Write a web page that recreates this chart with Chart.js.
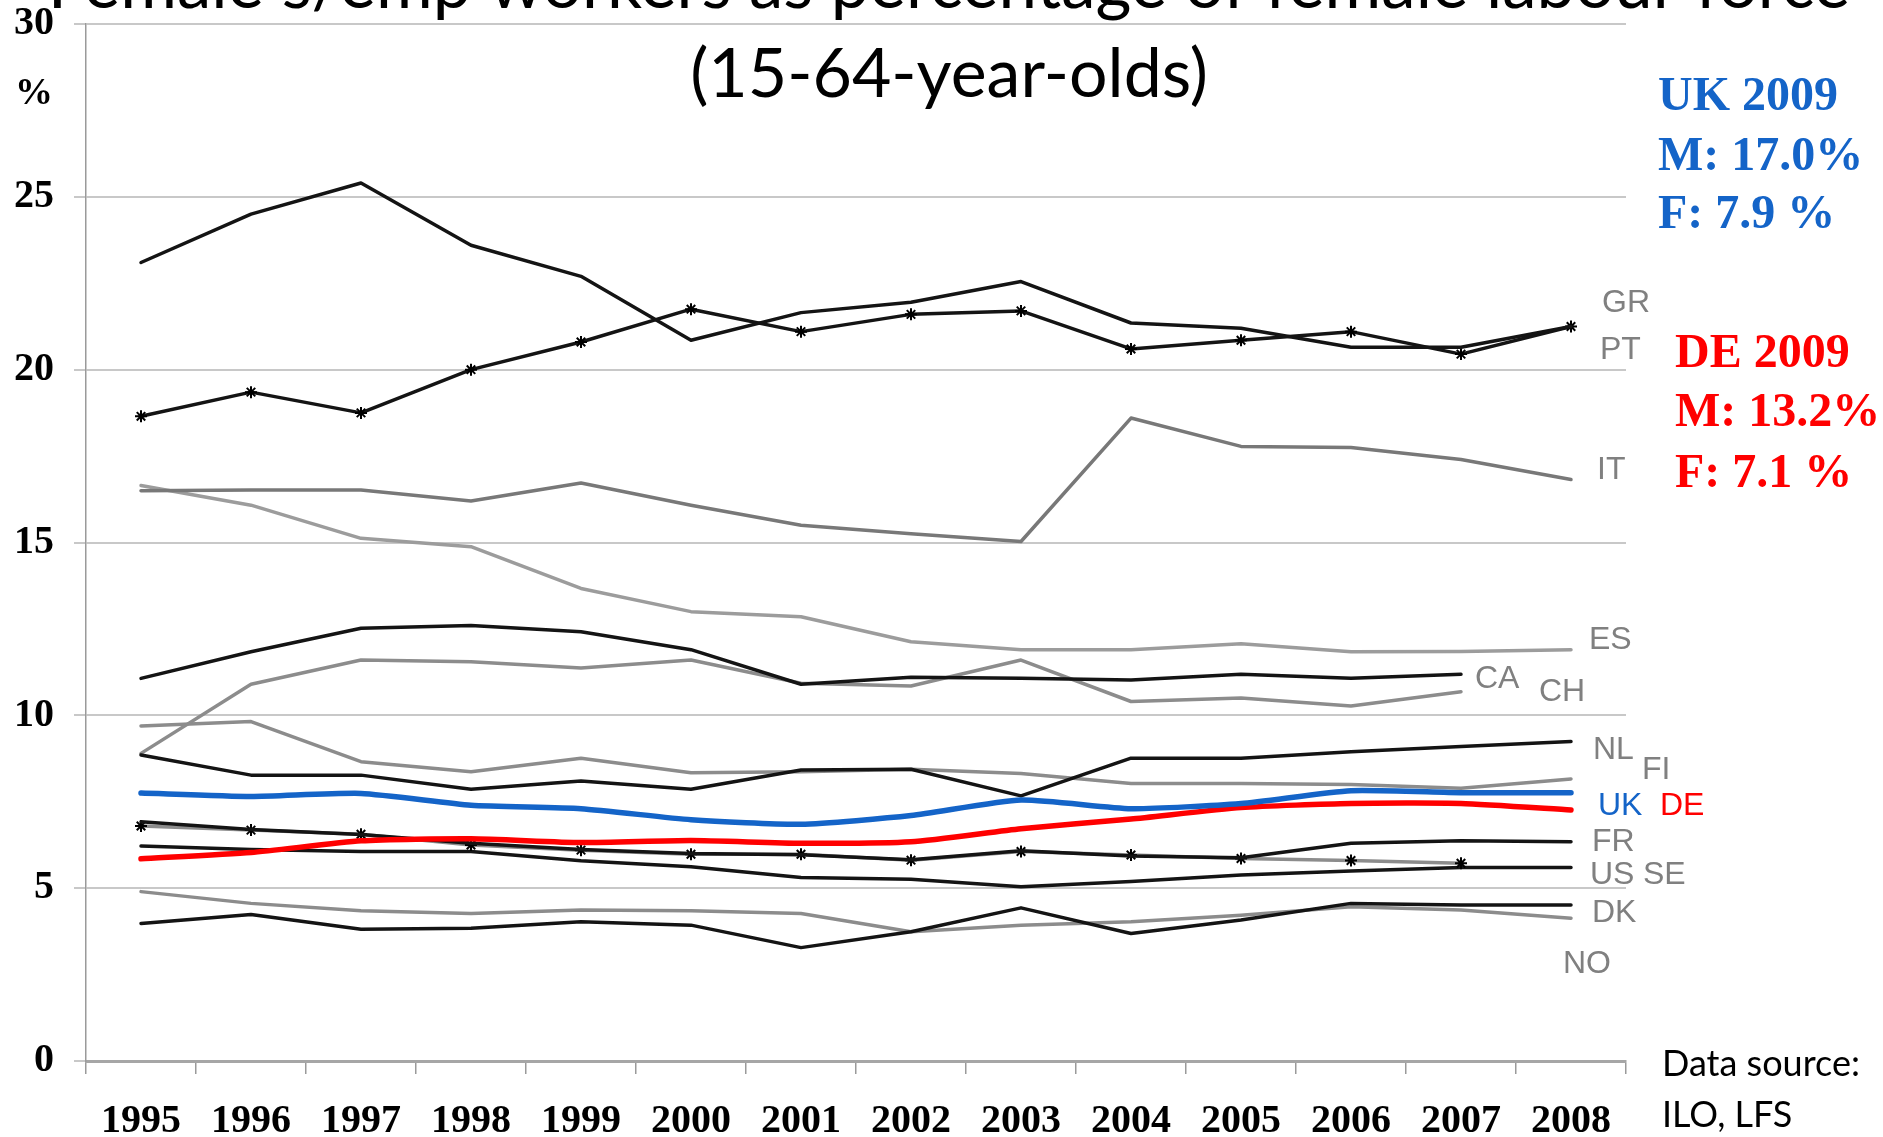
<!DOCTYPE html>
<html><head><meta charset="utf-8">
<script src="https://cdn.jsdelivr.net/npm/chart.js@4.4.1/dist/chart.umd.min.js"></script>
<style>html,body{margin:0;padding:0;background:#fff;overflow:hidden}canvas{display:block}</style>
</head><body>
<canvas id="c" width="1883" height="1137"></canvas>
<script>
// ---- data ----
const years = ['1995','1996','1997','1998','1999','2000','2001','2002','2003','2004','2005','2006','2007','2008'];
const yTicks = [0, 5, 10, 15, 20, 25, 30];
const GR = [23.1, 24.5, 25.4, 23.6, 22.7, 20.85, 21.65, 21.95, 22.55, 21.35, 21.2, 20.65, 20.65, 21.25];
const PT = [18.65, 19.35, 18.75, 20.0, 20.8, 21.75, 21.1, 21.6, 21.7, 20.6, 20.85, 21.1, 20.45, 21.25];
const IT = [16.5, 16.52, 16.52, 16.2, 16.72, 16.08, 15.5, 15.25, 15.03, 18.6, 17.78, 17.75, 17.4, 16.82];
const ES = [16.65, 16.08, 15.12, 14.88, 13.67, 13.0, 12.85, 12.13, 11.9, 11.9, 12.07, 11.84, 11.85, 11.9];
const CA = [11.07, 11.84, 12.52, 12.6, 12.42, 11.9, 10.9, 11.1, 11.07, 11.02, 11.19, 11.07, 11.19, null];
const CH = [8.9, 10.9, 11.6, 11.55, 11.37, 11.6, 10.93, 10.85, 11.6, 10.4, 10.5, 10.27, 10.68, null];
const NL = [8.85, 8.27, 8.27, 7.86, 8.1, 7.86, 8.42, 8.44, 7.67, 8.76, 8.76, 8.95, 9.1, 9.24];
const FI = [9.69, 9.82, 8.66, 8.37, 8.76, 8.34, 8.37, 8.44, 8.32, 8.03, 8.03, 8.0, 7.89, 8.16];
const UK = [7.75, 7.65, 7.74, 7.4, 7.3, 6.98, 6.85, 7.1, 7.55, 7.3, 7.45, 7.82, 7.76, 7.76];
const DE = [5.85, 6.03, 6.37, 6.43, 6.32, 6.38, 6.3, 6.34, 6.72, 7.0, 7.33, 7.45, 7.45, 7.26];
const FR = [6.92, 6.7, 6.55, 6.3, 6.12, 6.0, 5.97, 5.82, 6.08, 5.93, 5.88, 6.3, 6.37, 6.34];
const US = [6.8, 6.68, 6.56, 6.25, 6.1, 5.98, 5.98, 5.81, 6.06, 5.96, 5.86, 5.8, 5.72, null];
const SE = [6.22, 6.12, 6.06, 6.06, 5.79, 5.62, 5.31, 5.26, 5.04, 5.19, 5.38, 5.5, 5.6, 5.6];
const DK = [4.9, 4.56, 4.35, 4.27, 4.37, 4.35, 4.27, 3.74, 3.93, 4.03, 4.22, 4.46, 4.37, 4.13];
const NO = [3.98, 4.24, 3.81, 3.84, 4.03, 3.93, 3.28, 3.74, 4.43, 3.69, 4.08, 4.56, 4.51, 4.51];

const titleLines = ['Female s/emp workers as percentage of female labour force', '(15-64-year-olds)'];
const ukNote = ['UK 2009', 'M: 17.0%', 'F: 7.9 %'];
const deNote = ['DE 2009', 'M: 13.2%', 'F: 7.1 %'];
const sourceNote = ['Data source:', 'ILO, LFS'];
const unitLabel = '%';

// ---- styling ----
const BLACK = '#141414', BLUE = '#1464c8', RED = '#ff0000';
function ds(label, data, color, width, extra) {
  return Object.assign({
    label, data, borderColor: color, backgroundColor: color, borderWidth: width,
    pointRadius: 0, tension: 0, fill: false, spanGaps: false, borderJoinStyle: 'round', borderCapStyle: 'round'
  }, extra || {});
}
const star = { pointStyle: 'star', pointRadius: 6, pointBorderColor: '#000', pointBackgroundColor: '#000', pointBorderWidth: 2, pointHoverRadius: 6 };

const datasets = [
  ds('UK', UK, BLUE, 5.5, { tension: 0.2 }),
  ds('DE', DE, RED, 5.5, { tension: 0.2 }),
  ds('GR', GR, BLACK, 3.5),
  ds('PT', PT, BLACK, 3.5, star),
  ds('FR', FR, BLACK, 3.5),
  ds('US', US, '#8c8c8c', 3.5, star),
  ds('SE', SE, BLACK, 3.5),
  ds('NL', NL, BLACK, 3.5),
  ds('CA', CA, BLACK, 3.5),
  ds('NO', NO, BLACK, 3.5),
  ds('IT', IT, '#787878', 3.5),
  ds('ES', ES, '#9c9c9c', 3.5),
  ds('CH', CH, '#8c8c8c', 3.5),
  ds('FI', FI, '#8c8c8c', 3.5),
  ds('DK', DK, '#8c8c8c', 3.5)
];

const seriesTags = [
  ['GR', 1602, 303, '#808080'], ['PT', 1600, 350, '#808080'], ['IT', 1597, 470, '#808080'],
  ['ES', 1589, 640, '#808080'], ['CA', 1475, 679, '#808080'], ['CH', 1539, 692, '#808080'],
  ['NL', 1593, 750, '#808080'], ['FI', 1642, 770, '#808080'], ['UK', 1598, 806, BLUE],
  ['DE', 1660, 806, RED], ['FR', 1592, 842, '#808080'], ['US', 1590, 875, '#808080'],
  ['SE', 1643, 875, '#808080'], ['DK', 1592, 913, '#808080'], ['NO', 1563, 964, '#808080']
];

const annot = {
  id: 'annot',
  afterDraw(chart) {
    const ctx = chart.ctx;
    ctx.save();
    ctx.textBaseline = 'alphabetic';
    // title
    ctx.fillStyle = '#000';
    ctx.textAlign = 'center';
    ctx.font = '69px Lato';
    ctx.fillText(titleLines[0], 949, 8);
    ctx.font = '68px Lato';
    ctx.fillText(titleLines[1], 949, 97);
    // unit
    ctx.font = 'bold 38px "Liberation Serif"';
    ctx.textBaseline = 'middle';
    ctx.fillText(unitLabel, 34, 94);
    // series tags
    ctx.textAlign = 'left';
    ctx.font = '32px "Liberation Sans"';
    seriesTags.forEach(t => { ctx.fillStyle = t[3]; ctx.fillText(t[0], t[1], t[2]); });
    // notes
    ctx.textBaseline = 'alphabetic';
    ctx.font = 'bold 48px "Liberation Serif"';
    ctx.fillStyle = BLUE;
    [110, 170, 228].forEach((y, i) => ctx.fillText(ukNote[i], 1658, y));
    ctx.fillStyle = RED;
    [367, 426, 487].forEach((y, i) => ctx.fillText(deNote[i], 1675, y));
    ctx.fillStyle = '#000';
    ctx.font = '36px Lato';
    ctx.fillText(sourceNote[0], 1662, 1076);
    ctx.fillText(sourceNote[1], 1662, 1127);
    ctx.restore();
  }
};

new Chart(document.getElementById('c'), {
  type: 'line',
  data: { labels: years, datasets },
  options: {
    responsive: false, animation: false, devicePixelRatio: 1,
    layout: { padding: { top: 24, right: 257, bottom: 0, left: 0 } },
    plugins: { legend: { display: false }, tooltip: { enabled: false }, title: { display: false } },
    scales: {
      x: {
        offset: true,
        grid: { offset: true, drawOnChartArea: false, drawTicks: true, tickLength: 13, color: '#9a9a9a', lineWidth: 1.5 },
        border: { display: true, color: '#a6a6a6', width: 3 },
        ticks: { font: { family: 'Liberation Serif', size: 40, weight: 'bold' }, color: '#000', padding: 24, maxRotation: 0, autoSkip: false },
        afterFit(s) { s.height = 76; s.paddingLeft = 0; s.paddingRight = 0; }
      },
      y: {
        min: 0, max: 30,
        afterBuildTicks(s) { s.ticks = yTicks.map(v => ({ value: v })); },
        grid: { color: '#c8c8c8', lineWidth: 2, tickLength: 12, drawTicks: true },
        border: { display: true, color: '#9a9a9a', width: 1.5 },
        ticks: { font: { family: 'Liberation Serif', size: 40, weight: 'bold' }, color: '#000', padding: 20 },
        afterFit(s) { s.width = 86; s.paddingTop = 0; s.paddingBottom = 0; }
      }
    }
  },
  plugins: [annot]
});
</script>
</body></html>
